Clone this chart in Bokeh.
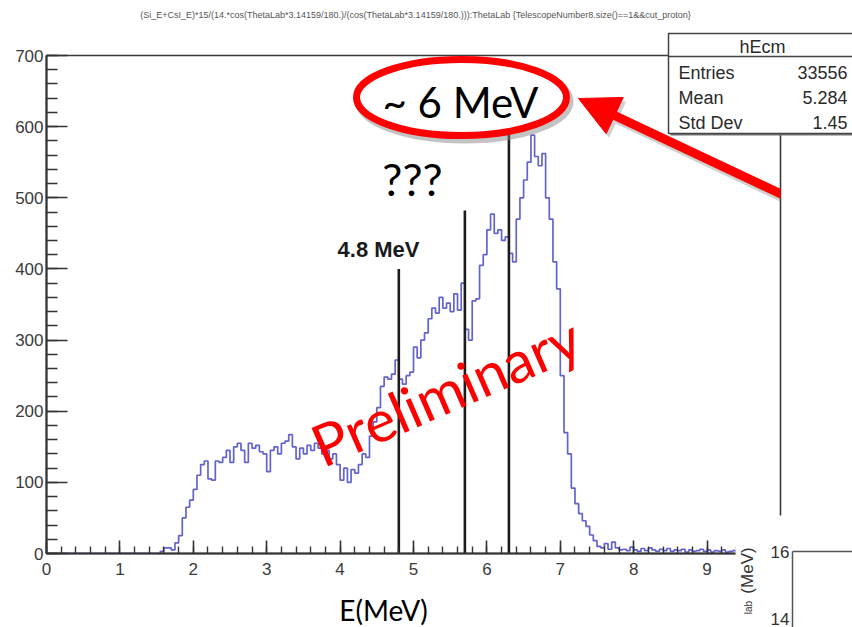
import math
from bokeh.plotting import figure
from bokeh.models import Range1d, SingleIntervalTicker, Arrow, NormalHead
from bokeh.core.properties import value
from bokeh.embed import file_html
from bokeh.resources import INLINE

# ---------------- data ----------------
bin_width = 0.05
counts = [
    0, 0, 0, 0, 0, 0, 0, 0, 0, 0,            # 0.0 - 0.45
    0, 0, 0, 0, 0, 0, 0, 0, 0, 0,            # 0.5 - 0.95
    0, 0, 0, 0, 0, 0, 0, 0, 0, 0,            # 1.0 - 1.45
    0, 3, 8, 8, 5, 15, 25, 50, 65, 75,       # 1.5 - 1.95
    90, 110, 125, 130, 105, 103, 130, 128, 135, 145,   # 2.0
    128, 150, 155, 145, 128, 155, 148, 152, 143, 140,  # 2.5
    115, 145, 150, 140, 155, 158, 167, 150, 133, 148,  # 3.0
    140, 152, 145, 155, 148, 140, 145, 133, 140, 125,  # 3.5
    103, 120, 100, 118, 113, 125, 140, 135, 165, 185,  # 4.0
    205, 235, 248, 245, 252, 272, 245, 238, 250, 255,  # 4.5
    290, 275, 300, 310, 330, 345, 338, 360, 345, 352,  # 5.0
    340, 365, 342, 380, 315, 300, 355, 358, 405, 420,  # 5.5
    455, 477, 450, 455, 440, 445, 422, 410, 470, 500,  # 6.0
    525, 550, 588, 558, 545, 562, 500, 470, 410, 372,  # 6.5
    250, 170, 140, 92, 70, 56, 46, 38, 26, 18,         # 7.0
    10, 8, 14, 6, 16, 8, 5, 6, 4, 9,                   # 7.5
    5, 3, 7, 4, 8, 5, 3, 6, 4, 7,                      # 8.0
    3, 5, 4, 6, 2, 5, 3, 4, 6, 3,                      # 8.5
    5, 2, 4, 3, 5, 2, 3, 4, 2, 3,                      # 9.0
    2, 4, 2, 1, 3, 2, 1, 2, 1, 2,                      # 9.5
]
edges = [i * bin_width for i in range(len(counts) + 1)]
step_y = counts + [counts[-1]]

marker_energies = [4.8, 5.7, 6.3]
marker_tops = [400, 482, 600]

stats_name = "hEcm"
stats_labels = ["Entries", "Mean", "Std Dev"]
stats_values = ["33556", "5.284", "1.45"]

title_text = ("(Si_E+CsI_E)*15/(14.*cos(ThetaLab*3.14159/180.)/(cos(ThetaLab*3.14159/180.))):"
              "ThetaLab {TelescopeNumber8.size()==1&&cut_proton}")

# ---------------- geometry ----------------
W, H = 852, 627
FL, FR, FT, FB = 46, 780, 55, 553
X0, X1, Y0, Y1 = 0.0, 10.0, 0.0, 700.0


def dx(px):
    return X0 + (px - FL) * (X1 - X0) / (FR - FL)


def dy(py):
    return Y0 + (FB - py) * (Y1 - Y0) / (FB - FT)


p = figure(width=W, height=H, x_range=Range1d(X0, X1), y_range=Range1d(Y0, Y1),
           output_backend="svg", toolbar_location=None,
           min_border_left=FL, min_border_right=W - FR,
           min_border_top=FT, min_border_bottom=H - FB)
p.background_fill_color = "white"
p.border_fill_color = "white"
p.grid.visible = False
p.outline_line_color = "#3a3a3a"
p.outline_line_width = 1.6

AX = "#333333"
p.xaxis.ticker = SingleIntervalTicker(interval=1, num_minor_ticks=5)
p.yaxis.ticker = SingleIntervalTicker(interval=100, num_minor_ticks=5)
for ax in (p.xaxis[0], p.yaxis[0]):
    ax.axis_line_color = AX
    ax.axis_line_width = 2
    ax.major_tick_line_color = AX
    ax.minor_tick_line_color = AX
    ax.major_tick_line_width = 1.6
    ax.minor_tick_line_width = 1.4
    ax.major_tick_out = 0
    ax.minor_tick_out = 0
    ax.major_label_text_font = "Liberation Sans"
    ax.major_label_text_font_size = "17px"
    ax.major_label_text_color = "#3a3a3a"
p.xaxis.major_tick_in = 13
p.xaxis.minor_tick_in = 7
p.xaxis.major_label_standoff = 9
p.yaxis.major_tick_in = 21
p.yaxis.minor_tick_in = 11
p.yaxis.major_label_standoff = 3

# histogram
p.step(edges, step_y, mode="after", line_color="#4848c4", line_width=1.7, line_alpha=0.85)

# marker lines
p.segment(x0=marker_energies, y0=[0] * len(marker_energies), x1=marker_energies, y1=marker_tops,
          line_color="#1c1c1c", line_width=2.6)

p.text(x=[dx(378)], y=[dy(249)], text=["4.8 MeV"], text_font=value("Liberation Sans"),
       text_font_style="bold", text_font_size=value("22px"), text_color="#1a1a1a",
       text_align="center", text_baseline="middle")

p.text(x=[dx(412)], y=[dy(178)], text=["???"], text_font=value("Lato"),
       text_font_size=value("45px"), text_color="black",
       text_align="center", text_baseline="middle")

p.text(x=[dx(445)], y=[dy(390)], text=["Preliminary"], angle=[math.radians(23.5)],
       text_font=value("Lato"), text_font_size=value("58px"), text_color="#ff0000",
       text_align="center", text_baseline="middle")

# ---------------- overlay annotations (outside frame) ----------------
OV = "overlay"
# stats box
p.quad(left=[dx(670)], right=[dx(860)], top=[dy(35)], bottom=[dy(135)],
       fill_color="#777777", line_color=None, level=OV)
p.quad(left=[dx(668)], right=[dx(858)], top=[dy(33)], bottom=[dy(133)],
       fill_color="white", line_color="#444444", line_width=1.5, level=OV)
p.segment(x0=[dx(668)], y0=[dy(56)], x1=[dx(858)], y1=[dy(56)],
          line_color="#444444", line_width=1.5, level=OV)
p.text(x=[dx(762)], y=[dy(46)], text=[stats_name], text_font=value("Liberation Sans"),
       text_font_size=value("18px"), text_color="#2a2a2a", text_align="center",
       text_baseline="middle", level=OV)
row_y = [dy(72), dy(97), dy(122)]
p.text(x=[dx(678)] * 3, y=row_y, text=stats_labels, text_font=value("Liberation Sans"),
       text_font_size=value("18px"), text_color="#2a2a2a", text_align="left",
       text_baseline="middle", level=OV)
p.text(x=[dx(847)] * 3, y=row_y, text=stats_values, text_font=value("Liberation Sans"),
       text_font_size=value("18px"), text_color="#2a2a2a", text_align="right",
       text_baseline="middle", level=OV)

# inset fragment bottom right
p.quad(left=[dx(735)], right=[dx(860)], top=[dy(515)], bottom=[dy(640)],
       fill_color="white", line_color=None, level=OV)
p.segment(x0=[dx(792), dx(792)], y0=[dy(551), dy(551)], x1=[dx(860), dx(792)], y1=[dy(551), dy(640)],
          line_color="#555555", line_width=1.5, level=OV)
p.text(x=[dx(789), dx(789)], y=[dy(551), dy(618)], text=["16", "14"],
       text_font=value("Liberation Sans"), text_font_size=value("17px"), text_color="#333333",
       text_align="right", text_baseline="middle", level=OV)
p.text(x=[dx(747)], y=[dy(570)], text=["(MeV)"], angle=[math.pi / 2],
       text_font=value("Liberation Sans"), text_font_size=value("17px"), text_color="#333333",
       text_align="center", text_baseline="middle", level=OV)
p.text(x=[dx(748)], y=[dy(607)], text=["lab"], angle=[math.pi / 2],
       text_font=value("Liberation Sans"), text_font_size=value("10px"), text_color="#333333",
       text_align="center", text_baseline="middle", level=OV)

# title
p.text(x=[dx(415)], y=[dy(14)], text=[title_text], text_font=value("Liberation Sans"),
       text_font_size=value("9px"), text_color="#555555", text_align="center",
       text_baseline="middle", level=OV)

# x label
p.text(x=[dx(383)], y=[dy(609)], text=["E(MeV)"], text_font=value("Lato"),
       text_font_size=value("28px"), text_color="black", text_align="center",
       text_baseline="middle", level=OV)

# ellipse with shadow
p.ellipse(x=[dx(464)], y=[dy(101)], width=[210], height=[76], width_units="screen",
          height_units="screen", fill_color=None, line_color="#888888", line_alpha=0.5,
          line_width=8, level=OV)
p.ellipse(x=[dx(461)], y=[dy(97)], width=[210], height=[76], width_units="screen",
          height_units="screen", fill_color="white", line_color="#ff0000",
          line_width=7, level=OV)
p.text(x=[dx(460)], y=[dy(101)], text=["~ 6 MeV"], text_font=value("Lato"),
       text_font_size=value("42px"), text_color="black", text_align="center",
       text_baseline="middle", level=OV)

# arrow with shadow
p.add_layout(Arrow(x_start=dx(864), y_start=dy(236), x_end=dx(581), y_end=dy(102),
                   line_color="#777777", line_alpha=0.35, line_width=9,
                   end=NormalHead(size=40, fill_color="#777777", fill_alpha=0.35, line_color=None),
                   level=OV))
p.add_layout(Arrow(x_start=dx(862), y_start=dy(232), x_end=dx(578), y_end=dy(98),
                   line_color="#ff0000", line_width=9,
                   end=NormalHead(size=40, fill_color="#ff0000", line_color="#ff0000"),
                   level=OV))

open("out.html", "w").write(file_html(p, INLINE))
